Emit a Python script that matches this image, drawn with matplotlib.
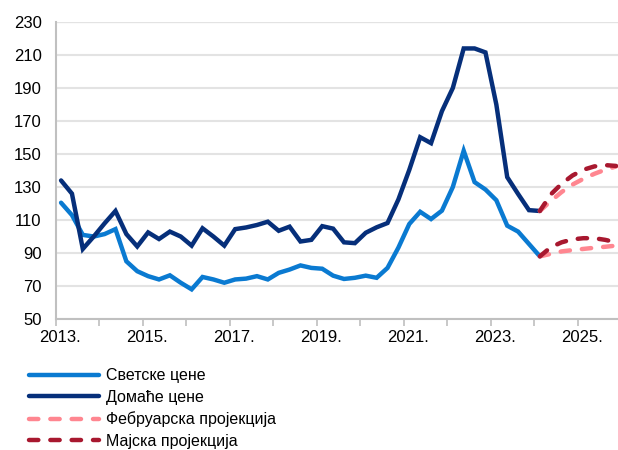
import matplotlib.pyplot as plt
import matplotlib.transforms as mtransforms
import numpy as np

plt.rcParams['font.family'] = ['Liberation Sans', 'DejaVu Sans']

# quarterly data, 2013Q1 - 2024Q1
world = [120.5, 113, 101, 100, 101.5, 104.5, 85, 79, 76, 74, 76.5, 72,
         68, 75.5, 74, 72, 74, 74.5, 76, 74, 78, 80, 82.5, 81,
         80.5, 76.3, 74.3, 75, 76.3, 75, 81, 93.3, 107.6, 115, 110.6, 115.7,
         130, 152, 133, 128.5, 122, 106.6, 103, 95.5, 88]
domestic = [134, 126, 92.5, 100, 108, 115.5, 101.5, 94, 102.5, 98.5, 103, 100,
            94.5, 105, 100, 94.5, 104.5, 105.5, 107, 109, 103.5, 106, 97, 98,
            106.3, 104.8, 96.5, 96, 102.3, 105.6, 108.2, 122.5, 140.4, 160.2, 156.6, 176,
            190, 214, 214, 211.6, 180, 136, 125.8, 116, 115.5]

# projections, 2024Q1 - 2025Q4
feb_domestic = [115.5, 121.5, 127, 131.5, 135, 138, 140.5, 142.5]
may_domestic = [115.5, 125.5, 132, 137, 140.5, 142.5, 143.3, 142.8]
feb_world = [88, 89.5, 91, 91.8, 92.5, 93.2, 93.8, 94.5]
may_world = [88, 93.5, 96.5, 98.3, 99, 99, 98, 96.5]

labels = ['Светске цене', 'Домаће цене', 'Фебруарска пројекција', 'Мајска пројекција']
years = [2013, 2015, 2017, 2019, 2021, 2023, 2025]
other_years = [2014, 2016, 2018, 2020, 2022, 2024]

x_hist = 2013.125 + np.arange(len(world)) / 4
x_proj = x_hist[-1] + np.arange(len(feb_world)) / 4

fig = plt.figure(figsize=(6.18, 4.5), dpi=100)
ax = fig.add_axes([0.09, 0.291, 0.91, 0.66])

c_world = '#0a7ad1'
c_dom = '#062f7a'
c_feb = '#ff8690'
c_may = '#a8182f'

l1, = ax.plot(x_hist, world, color=c_world, lw=3.2, solid_capstyle='round', solid_joinstyle='miter')
l2, = ax.plot(x_hist, domestic, color=c_dom, lw=3.2, solid_capstyle='round', solid_joinstyle='miter')
dash = (2.1, 2.7)
l3, = ax.plot(x_proj, feb_domestic, color=c_feb, lw=3.2, dashes=dash, dash_capstyle='round')
ax.plot(x_proj, feb_world, color=c_feb, lw=3.2, dashes=dash, dash_capstyle='round')
l4, = ax.plot(x_proj, may_domestic, color=c_may, lw=3.2, dashes=dash, dash_capstyle='round')
ax.plot(x_proj, may_world, color=c_may, lw=3.2, dashes=dash, dash_capstyle='round')

ax.set_xlim(2013, 2025.92)
ax.set_ylim(50, 230)
ax.set_yticks(np.arange(50, 231, 20))
ax.set_xticks(years, labels=[f'{y}.' for y in years])
ax.set_xticks(other_years, minor=True)
ax.tick_params(axis='x', which='both', length=5, width=1.2, color='#bfbfbf', labelsize=12, pad=3)
ax.tick_params(axis='y', length=0, labelsize=12, pad=10)

# nudge year labels a little to the right, like the original
shift = mtransforms.ScaledTranslation(4 / 100, 0, fig.dpi_scale_trans)
for lab in ax.get_xticklabels():
    lab.set_transform(lab.get_transform() + shift)

ax.grid(axis='y', color='#e3e3e3', lw=1.5)
ax.set_axisbelow(True)
for s in ['top', 'right']:
    ax.spines[s].set_visible(False)
for s in ['left', 'bottom']:
    ax.spines[s].set_color('#c0c0c0')
    ax.spines[s].set_linewidth(1.5)
ax.axhline(230, color='#c8c8c8', lw=1.5, zorder=0)

fig.legend([l1, l2, l3, l4], labels, loc='upper left', bbox_to_anchor=(0.047, 0.182),
           frameon=False, fontsize=11.5, handlelength=4.4, handletextpad=0.4,
           labelspacing=0.42, borderpad=0, borderaxespad=0)

fig.savefig('out.png', dpi=100)
